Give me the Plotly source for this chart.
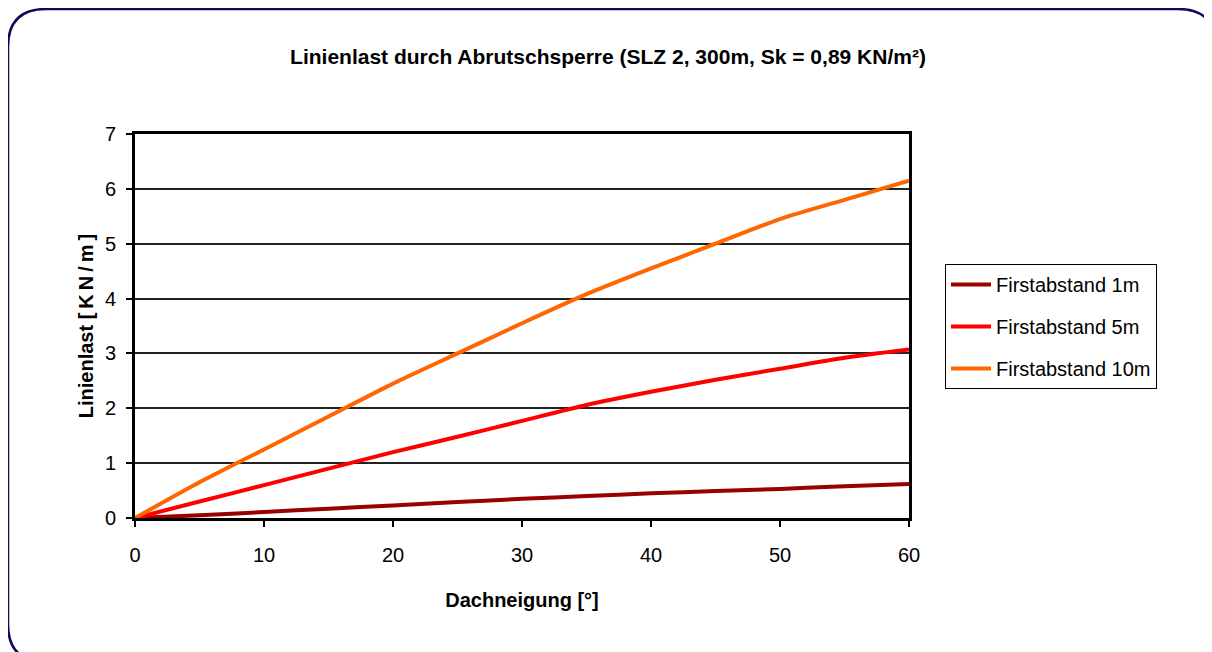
import plotly.graph_objects as go

# Data
neigung = [0, 5, 10, 15, 20, 25, 30, 35, 40, 45, 50, 55, 60]
first_1m = [0, 0.05, 0.11, 0.17, 0.23, 0.29, 0.35, 0.40, 0.45, 0.49, 0.53, 0.58, 0.62]
first_5m = [0, 0.30, 0.60, 0.90, 1.20, 1.48, 1.77, 2.06, 2.30, 2.52, 2.72, 2.92, 3.07]
first_10m = [0, 0.65, 1.25, 1.85, 2.45, 3.00, 3.55, 4.08, 4.55, 5.00, 5.45, 5.80, 6.15]

series_names = ["Firstabstand 1m", "Firstabstand 5m", "Firstabstand 10m"]
series_vals = [first_1m, first_5m, first_10m]
series_colors = ["#990000", "#FF0000", "#FF6600"]

x_ticks = [0, 10, 20, 30, 40, 50, 60]
y_ticks = [0, 1, 2, 3, 4, 5, 6, 7]

W, H = 1212, 652
OFF = 8  # page body margin offset
L, R, T, B = 135 - OFF, 909 - OFF, 134 - OFF, 518 - OFF

FONT = "Liberation Sans"

fig = go.Figure()
for i, (name, vals, col) in enumerate(zip(series_names, series_vals, series_colors)):
    fig.add_trace(go.Scatter(x=neigung, y=vals, mode="lines", name=name,
                             legendgroup=f"g{i}",
                             line=dict(color=col, width=4, shape="spline", smoothing=0.6)))

def px(x):
    return (x - OFF - L) / (R - L)

def py(y):
    return (B - (y - OFF)) / (B - T)

# rounded border path in paper coords (page pixel values)
l, r, t, b, rad = 8, 1216, 9, 662, 38
path = (f"M {px(l)},{py(t+rad)} "
        f"Q {px(l)},{py(t)} {px(l+rad)},{py(t)} "
        f"L {px(r-rad)},{py(t)} "
        f"Q {px(r)},{py(t)} {px(r)},{py(t+rad)} "
        f"L {px(r)},{py(b-rad)} "
        f"Q {px(r)},{py(b)} {px(r-rad)},{py(b)} "
        f"L {px(l+rad)},{py(b)} "
        f"Q {px(l)},{py(b)} {px(l)},{py(b-rad)} Z")

fig.update_layout(
    width=W, height=H,
    margin=dict(l=L, r=W - R, t=T, b=H - B, pad=0),
    paper_bgcolor="white", plot_bgcolor="white",
    font=dict(family=FONT, color="black", size=18),
    title=dict(text="<b>Linienlast durch Abrutschsperre (SLZ 2, 300m, Sk = 0,89 KN/m²)</b>",
               x=(608 - OFF) / W, xanchor="center", y=1 - (57 - OFF) / H, yanchor="middle",
               font=dict(family=FONT, size=21, color="black")),
    showlegend=True,
    legend=dict(x=px(945), y=py(264), xanchor="left", yanchor="top",
                bordercolor="black", borderwidth=1, bgcolor="white",
                font=dict(family=FONT, size=20, color="black"),
                traceorder="grouped", tracegroupgap=13,
                itemwidth=40),
    shapes=[dict(type="path", xref="paper", yref="paper", path=path,
                 line=dict(color="#0B0B5E", width=2.5), layer="below")],
)

fig.update_xaxes(range=[0, 60], tickvals=x_ticks, ticktext=[str(v) for v in x_ticks],
                 showgrid=False, zeroline=False,
                 showline=True, linecolor="black", linewidth=3, mirror=True,
                 ticks="outside", ticklen=6, tickwidth=1.5, tickcolor="black",
                 ticklabelstandoff=11,
                 tickfont=dict(size=20, family=FONT),
                 title=dict(text="<b>Dachneigung [°]</b>", standoff=28,
                            font=dict(size=20, family=FONT)))
fig.update_yaxes(range=[0, 7], tickvals=y_ticks, ticktext=[str(v) for v in y_ticks],
                 showgrid=True, gridcolor="#222222", gridwidth=1.5, zeroline=False,
                 showline=True, linecolor="black", linewidth=3, mirror=True,
                 ticks="outside", ticklen=6, tickwidth=1.5, tickcolor="black",
                 ticklabelstandoff=6,
                 tickfont=dict(size=20, family=FONT),
                 title=dict(text="<b>Linienlast [\u2009K\u2009N\u2009/\u2009m\u2009]</b>", standoff=6,
                            font=dict(size=20, family=FONT)))

fig.write_html("out.html")
